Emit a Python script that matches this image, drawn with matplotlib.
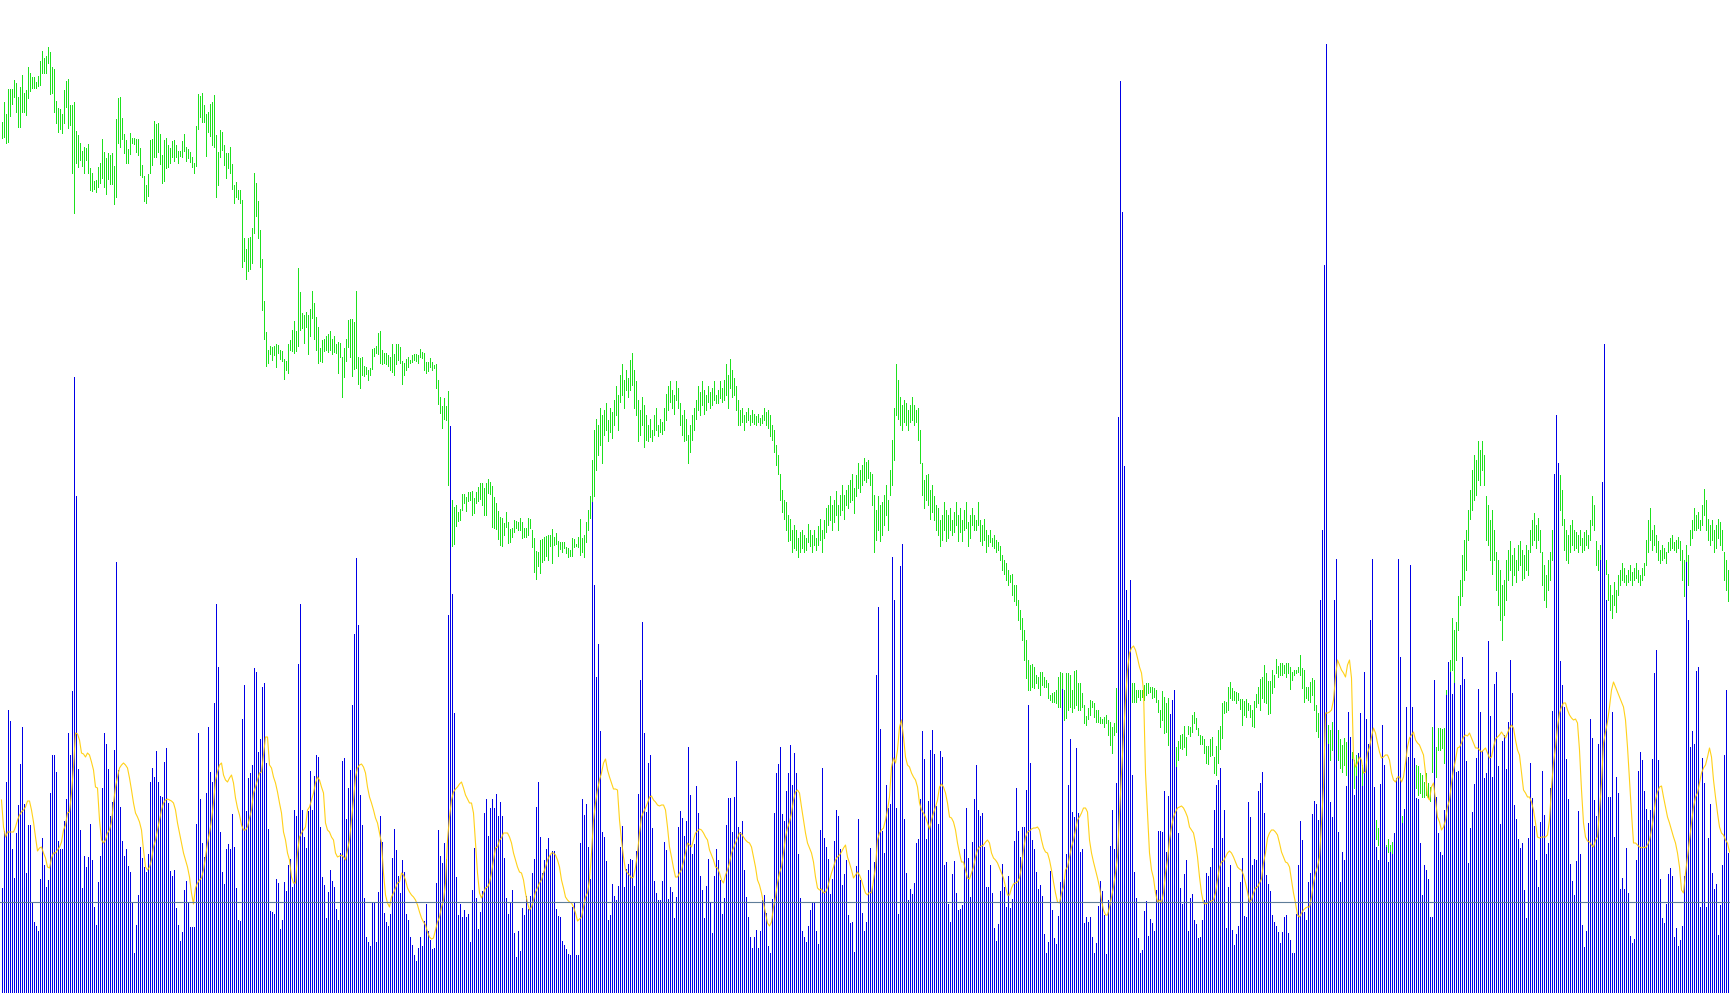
import numpy as np
import matplotlib.pyplot as plt

# tick volume per bar
volume = [
    104, 161, 210, 282, 271, 143, 114, 159, 187, 228, 265, 188, 119, 167, 167, 89, 70, 66, 61, 113,
    154, 127, 105, 112, 199, 237, 237, 220, 151, 143, 143, 171, 193, 259, 237, 301, 615, 496, 223, 162,
    104, 136, 125, 135, 168, 132, 85, 67, 110, 136, 204, 259, 248, 223, 176, 190, 242, 430, 222, 185,
    151, 136, 143, 126, 120, 90, 39, 67, 97, 145, 134, 125, 120, 138, 210, 224, 215, 241, 210, 196,
    195, 230, 244, 189, 121, 116, 122, 84, 67, 51, 60, 102, 111, 90, 65, 65, 65, 168, 259, 193,
    149, 135, 199, 265, 220, 210, 289, 388, 325, 160, 120, 108, 143, 148, 143, 178, 145, 104, 72, 71,
    273, 307, 181, 214, 219, 227, 324, 320, 240, 253, 305, 309, 229, 163, 81, 80, 78, 113, 109, 63,
    72, 110, 101, 127, 133,
    105, 182, 176, 328, 388, 182, 155, 144, 181, 221, 182, 216, 237, 235, 165, 115, 107, 74, 100, 122,
    111, 105, 83, 72, 139, 231, 234, 173, 204, 222, 287, 358, 434, 367, 197, 167, 94, 55, 50, 46,
    89, 89, 50, 100, 176, 150, 79, 70, 66, 78, 134, 163, 142, 116, 99, 132, 120, 78, 72, 55,
    47, 37, 31, 44, 55, 46, 71, 88, 61, 52, 43, 44, 109, 162, 136, 129, 149, 133, 377, 566,
    398, 279, 115, 77, 88, 75, 82, 75, 78, 50, 102, 144, 94, 63, 80, 101, 179, 193, 156, 184,
    193, 184, 198, 176, 190, 176, 134, 94, 78, 89, 102, 59, 35, 61, 41, 84, 77, 96, 83, 96,
    119, 133, 185, 210, 155, 119, 132, 143, 154, 137, 141, 141, 83, 76, 75, 51, 47, 43, 38, 37,
    85, 89, 37, 37, 149,
    193, 177, 188, 145, 113, 490, 407, 315, 348, 261, 160, 155, 131, 72, 77, 108, 96, 92, 106, 145,
    166, 105, 123, 128, 133, 132, 106, 141, 198, 312, 370, 259, 180, 229, 237, 164, 111, 99, 92, 92,
    111, 150, 142, 93, 105, 100, 74, 95, 165, 181, 174, 156, 171, 245, 197, 138, 148, 206, 179, 116,
    102, 74, 106, 133, 89, 59, 116, 143, 132, 112, 78, 94, 167, 194, 194, 160, 195, 231, 165, 160,
    171, 122, 95, 75, 55, 44, 55, 62, 44, 61, 92, 97, 79, 46, 39, 93, 179, 219, 228, 245,
    178, 171, 201, 219, 247, 207, 239, 219, 138, 94, 61, 55, 50, 66, 82, 90, 90, 61, 48, 162,
    224, 154, 145, 133, 98, 113, 151, 182, 176, 143, 107, 118, 132, 77, 69, 70, 40, 126, 173, 112,
    79, 61, 70, 122, 144,
    106, 130, 317, 385, 263, 161, 139, 207, 184, 188, 435, 392, 184, 78, 426, 448, 173, 119, 92, 103,
    98, 109, 149, 153, 193, 261, 233, 153, 191, 242, 262, 238, 186, 168, 241, 235, 127, 130, 88, 70,
    118, 131, 99, 82, 83, 87, 143, 184, 134, 95, 150, 193, 227, 182, 176, 179, 145, 105, 105, 127,
    99, 64, 51, 68, 101, 128, 105, 85, 116, 84, 93, 151, 204, 161, 135, 165, 165, 202, 287, 229,
    152, 143, 120, 103, 107, 96, 58, 39, 50, 121, 82, 54, 48, 76, 110, 303, 113, 138, 207, 253,
    180, 175, 244, 179, 140, 143, 69, 75, 70, 75, 55, 39, 49, 86, 111, 101, 77, 38, 92, 146,
    182, 143, 209, 575, 911, 780, 526, 402, 372, 412, 217, 120, 94, 54, 39, 42, 81, 91, 56, 73,
    69, 61, 102, 161, 161,
    160, 201, 140, 196, 278, 292, 302, 225, 159, 104, 88, 118, 132, 61, 94, 98, 72, 68, 54, 55,
    72, 92, 119, 116, 125, 144, 182, 207, 212, 224, 154, 182, 64, 105, 127, 62, 47, 58, 66, 110,
    134, 76, 75, 190, 175, 127, 133, 132, 201, 209, 220, 179, 117, 108, 101, 77, 70, 66, 60, 49,
    60, 75, 77, 59, 52, 39, 39, 78, 127, 171, 152, 80, 72, 110, 119, 178, 191, 188, 172, 392,
    462, 727, 948, 248, 190, 175, 392, 433, 160, 110, 140, 132, 206, 280, 255, 233, 197, 216, 239, 279,
    206, 320, 273, 248, 372, 433, 205, 145, 132, 208, 267, 227, 145, 130, 140, 138, 159, 214, 433, 335,
    169, 183, 285, 235, 427, 285, 234, 194, 193, 149, 97, 127, 122, 113, 75, 75, 312, 195, 159, 140,
    137, 182, 297, 330, 320,
    298, 309, 220, 221, 307, 335, 313, 231, 129, 164, 180, 208, 234, 303, 280, 241, 214, 219, 351, 276,
    215, 308, 320, 226, 168, 251, 257, 223, 270, 332, 299, 187, 173, 153, 144, 149, 102, 74, 154, 229,
    194, 166, 132, 105, 170, 221, 177, 138, 149, 204, 281, 518, 577, 529, 331, 307, 285, 233, 193, 128,
    111, 97, 131, 181, 138, 67, 45, 61, 169, 273, 254, 192, 176, 248, 432, 510, 648, 392, 195, 195,
    280, 155, 215, 199, 103, 114, 103, 144, 99, 56, 49, 53, 132, 221, 240, 232, 201, 183, 172, 182,
    233, 319, 342, 232, 113, 74, 69, 88, 118, 124, 116, 55, 64, 46, 52, 66, 116, 430, 372, 245,
    261, 248, 321, 325, 85, 234, 209, 85, 154, 188, 119, 103, 108, 57, 87, 127, 237, 302, 139, 87,
]

# moving average of the volume (yellow line)
volume_ma = [
    192, 165, 155, 160, 160, 160, 160, 165, 172, 177, 180, 182, 185, 191, 191, 182, 170, 155, 141, 144,
    145, 139, 134, 125, 124, 134, 139, 139, 142, 145, 150, 162, 167, 179, 180, 199, 225, 259, 258, 252,
    239, 238, 235, 239, 237, 230, 222, 205, 204, 172, 152, 149, 152, 159, 162, 170, 189, 205, 215, 224,
    227, 229, 227, 224, 214, 202, 189, 179, 175, 170, 162, 142, 125, 122, 125, 132, 145, 152, 162, 172,
    182, 189, 192, 193, 192, 191, 189, 182, 169, 159, 149, 139, 132, 125, 115, 99, 88, 104, 109, 112,
    114, 122, 135, 149, 159, 172, 189, 212, 220, 227, 229, 217, 212, 210, 214, 217, 209, 194, 184, 177,
    167, 162, 162, 165, 174, 182, 199, 205, 212, 219, 220, 237, 255, 255, 227, 224, 215, 209, 200, 189,
    179, 160, 152, 139, 132,
    115, 109, 109, 139, 155, 159, 162, 165, 182, 185, 192, 199, 209, 215, 212, 205, 199, 169, 162, 160,
    155, 152, 139, 135, 136, 137, 135, 132, 142, 152, 172, 192, 215, 224, 227, 228, 225, 219, 205, 195,
    189, 182, 174, 169, 159, 149, 119, 97, 89, 85, 95, 99, 104, 109, 110, 119, 117, 112, 104, 100,
    97, 95, 92, 87, 80, 74, 70, 67, 60, 55, 53, 54, 62, 70, 75, 85, 92, 109, 152, 175,
    192, 200, 203, 205, 208, 210, 204, 197, 193, 189, 189, 179, 149, 119, 99, 94, 99, 104, 105, 109,
    119, 132, 144, 145, 152, 154, 159, 159, 159, 155, 149, 139, 132, 125, 120, 119, 112, 99, 89, 82,
    85, 92, 100, 104, 109, 112, 119, 125, 132, 136, 139, 139, 137, 132, 125, 112, 104, 95, 92, 90,
    89, 85, 79, 71, 73,
    75, 85, 95, 99, 112, 139, 172, 189, 202, 212, 219, 229, 233, 222, 215, 209, 203, 203, 202, 172,
    152, 135, 122, 119, 117, 114, 115, 125, 139, 159, 175, 180, 184, 189, 195, 196, 192, 190, 187, 186,
    187, 187, 182, 165, 145, 135, 124, 115, 115, 119, 122, 130, 139, 149, 147, 145, 152, 159, 161, 163,
    162, 159, 155, 152, 142, 137, 132, 125, 124, 119, 112, 109, 117, 122, 129, 139, 144, 149, 154, 159,
    158, 155, 152, 150, 149, 145, 135, 125, 112, 107, 99, 89, 79, 69, 66, 70, 85, 95, 109, 119,
    125, 139, 155, 164, 170, 179, 192, 200, 202, 199, 185, 172, 159, 149, 144, 139, 130, 115, 104, 102,
    103, 99, 100, 104, 112, 119, 125, 132, 135, 137, 140, 144, 147, 135, 129, 122, 114, 117, 120, 117,
    112, 105, 99, 97, 100,
    99, 112, 125, 152, 159, 162, 164, 172, 182, 195, 225, 234, 229, 242, 265, 272, 255, 235, 227, 225,
    219, 215, 212, 205, 189, 182, 179, 175, 169, 163, 172, 179, 185, 192, 205, 208, 205, 199, 189, 175,
    174, 170, 162, 149, 139, 130, 130, 122, 114, 113, 119, 125, 135, 142, 145, 146, 147, 150, 152, 149,
    139, 134, 132, 129, 124, 119, 114, 105, 97, 97, 104, 108, 109, 110, 114, 125, 142, 155, 160, 161,
    163, 164, 164, 165, 162, 152, 144, 140, 139, 132, 122, 110, 99, 90, 89, 99, 105, 122, 125, 135,
    145, 152, 162, 172, 175, 179, 184, 184, 180, 152, 139, 130, 122, 114, 105, 92, 82, 77, 77, 85,
    95, 105, 119, 135, 179, 219, 255, 292, 322, 339, 344, 346, 342, 334, 325, 319, 302, 219, 179, 139,
    122, 114, 99, 90, 92,
    89, 99, 119, 132, 152, 165, 175, 180, 184, 185, 186, 184, 180, 175, 165, 162, 159, 149, 135, 115,
    99, 89, 88, 89, 90, 91, 92, 99, 112, 125, 130, 131, 135, 139, 141, 139, 135, 130, 125, 123,
    122, 117, 109, 100, 90, 92, 99, 104, 105, 109, 113, 129, 139, 154, 159, 162, 162, 160, 157, 149,
    140, 135, 130, 129, 125, 112, 99, 89, 77, 75, 79, 82, 84, 85, 85, 95, 109, 119, 125, 135,
    169, 205, 279, 279, 280, 282, 292, 315, 332, 327, 322, 319, 315, 327, 332, 314, 235, 225, 229, 235,
    232, 219, 220, 239, 245, 255, 264, 259, 249, 240, 234, 235, 237, 237, 232, 219, 212, 210, 215, 215,
    210, 215, 229, 245, 254, 257, 260, 252, 249, 247, 242, 237, 219, 195, 192, 205, 209, 192, 175, 170,
    162, 165, 172, 185, 192,
    209, 222, 232, 244, 245, 249, 255, 257, 256, 259, 254, 249, 244, 244, 242, 240, 242, 244, 239, 234,
    235, 245, 253, 255, 257, 260, 257, 254, 259, 264, 267, 264, 252, 242, 237, 219, 202, 199, 195, 195,
    190, 182, 169, 155, 154, 155, 155, 155, 157, 172, 205, 229, 245, 265, 279, 285, 289, 289, 282, 277,
    274, 272, 273, 269, 242, 202, 169, 155, 151, 150, 147, 145, 152, 155, 182, 209, 249, 260, 270, 285,
    302, 310, 305, 300, 295, 290, 285, 272, 245, 212, 179, 149, 149, 147, 145, 144, 145, 144, 147, 152,
    162, 175, 192, 200, 205, 206, 195, 185, 175, 169, 162, 155, 149, 139, 125, 102, 99, 119, 135, 152,
    169, 185, 195, 199, 209, 219, 224, 227, 235, 244, 235, 212, 195, 179, 165, 159, 157, 152, 149, 140,
]

# bar high / low, in points
high = [
    878, 898, 886, 911, 911, 911, 920, 917, 903, 913, 925, 907, 910, 933, 927, 923, 923, 918, 924, 939,
    949, 942, 944, 953, 948, 933, 931, 899, 892, 891, 886, 910, 919, 921, 895, 895, 898, 869, 865, 857,
    849, 853, 852, 856, 832, 827, 819, 820, 833, 837, 861, 848, 842, 847, 845, 847, 834, 881, 902, 903,
    882, 866, 860, 851, 867, 862, 862, 861, 861, 852, 835, 824, 815, 826, 860, 861, 879, 876, 877, 866,
    845, 860, 862, 855, 852, 859, 860, 855, 849, 849, 859, 866, 853, 851, 848, 843, 837, 874, 906, 904,
    907, 895, 886, 888, 896, 898, 905, 865, 848, 870, 868, 855, 847, 847, 853, 836, 815, 818, 810, 810,
    800, 762, 751, 762, 763, 772, 827, 817, 799, 770, 741, 699, 668, 650, 654, 653, 654, 656, 655, 650,
    649, 641, 639, 656, 660,
    670, 679, 669, 732, 708, 687, 685, 688, 685, 691, 709, 697, 683, 673, 652, 660, 661, 664, 666, 669,
    661, 664, 656, 658, 657, 643, 652, 661, 680, 681, 681, 678, 709, 643, 642, 643, 634, 633, 630, 632,
    651, 652, 654, 667, 669, 650, 647, 647, 645, 643, 656, 646, 656, 656, 653, 639, 637, 641, 643, 640,
    645, 646, 646, 645, 651, 648, 647, 638, 638, 642, 638, 635, 636, 620, 603, 594, 602, 594, 609, 523,
    500, 493, 495, 488, 491, 506, 506, 503, 508, 508, 509, 502, 508, 513, 517, 517, 512, 517, 521, 518,
    514, 503, 497, 489, 483, 482, 477, 488, 478, 471, 472, 480, 479, 478, 482, 478, 472, 472, 482, 481,
    470, 462, 449, 448, 460, 461, 463, 464, 465, 465, 471, 463, 467, 459, 458, 458, 458, 453, 452, 450,
    462, 461, 456, 463, 481,
    462, 465, 478, 490, 504, 540, 570, 581, 575, 592, 585, 590, 597, 580, 592, 588, 600, 614, 605, 625,
    636, 620, 630, 622, 640, 647, 630, 619, 600, 590, 603, 595, 585, 575, 581, 570, 585, 592, 575, 581,
    578, 592, 606, 614, 619, 610, 605, 619, 612, 597, 585, 590, 581, 565, 575, 585, 592, 600, 614, 608,
    619, 610, 605, 614, 608, 612, 619, 605, 610, 619, 612, 620, 636, 625, 641, 630, 622, 614, 600, 590,
    592, 585, 588, 592, 585, 590, 586, 584, 586, 582, 585, 592, 588, 590, 585, 575, 570, 555, 545, 526,
    510, 500, 498, 485, 481, 470, 475, 470, 462, 468, 470, 465, 462, 476, 470, 465, 470, 462, 474, 481,
    470, 480, 492, 495, 504, 495, 500, 509, 495, 505, 515, 505, 510, 515, 520, 526, 512, 525, 537, 530,
    535, 542, 538, 540, 528, 526, 505, 490, 504, 495, 498, 505, 515, 500, 530, 560, 592, 636, 620, 603,
    595, 600, 597, 590, 595, 603, 595, 590, 592, 570, 537, 520, 525, 526, 510, 515, 504, 495, 492, 480,
    485, 498, 490, 485, 492, 480, 488, 498, 485, 492, 480, 490, 498, 478, 485, 492, 485, 480, 498, 480,
    475, 481, 470, 465, 470, 462, 465, 460, 458, 454, 445, 440, 437, 430, 425, 426, 415, 415, 400, 390,
    382, 370,
    360, 340, 335, 336, 333, 325, 323, 328, 328, 323, 320, 317, 305, 307, 308, 310, 323, 328, 327, 310,
    327, 327, 325, 310, 329, 330, 317, 317, 307, 295, 284, 292, 300, 299, 297, 290, 290, 283, 281, 283,
    285, 280, 278, 273, 277, 312, 343, 340, 337, 327, 343, 352, 340, 317, 317, 310, 310, 310, 310, 315,
    317, 317, 313, 313, 312, 310, 300, 290,
    309, 303, 297, 302, 283, 267, 260, 253, 259, 265, 266, 274, 263, 274, 273, 285, 288, 282, 272, 265,
    264, 261, 254, 254, 261, 263, 243, 254, 270, 274, 297, 299, 298, 313, 318, 312, 309, 308, 307, 301,
    301, 299, 301, 297, 295, 290, 299, 306, 313, 321, 323, 335, 327, 319, 319, 330, 325, 341, 334, 337,
    337, 335, 337, 337, 333, 328, 330, 330, 333, 345, 332, 330, 313, 313, 318, 322, 320, 295, 287, 281,
    288, 265,
    283, 275, 270, 278, 272, 265, 270, 261, 255, 262, 258, 250, 255, 248, 240, 245, 239, 232, 235, 228,
    222, 215, 206, 200, 190, 180, 172, 160, 158, 160, 155, 161, 155, 158, 152, 157, 170, 175, 184, 178,
    172, 210, 225, 239, 230, 235, 234, 227, 225, 218, 227, 217, 213, 273, 274, 253, 272, 272, 271, 272,
    310, 327, 340,
    382, 370, 378, 404, 420, 445, 460, 470, 490, 510, 530, 545, 540, 559, 550, 559, 545, 504, 495, 480,
    490, 470, 448, 440, 430, 415, 420, 440, 450, 459, 445, 452, 440, 455, 459, 450, 445, 455, 450, 470,
    480, 487, 475, 482, 470, 448, 435, 425, 440, 448, 470, 500, 520, 537, 525, 510, 481, 470, 465, 475,
    480, 470, 468, 465, 470, 462, 468, 470, 465, 480, 504, 495, 459, 450, 455, 445, 450, 440, 426, 415,
    405, 418, 410, 425, 430, 437, 432, 425, 430, 435, 428, 432, 437, 430, 425, 432, 437, 460, 480, 492,
    470, 475, 465, 459, 450, 455, 452, 448, 458, 462, 465, 458, 460, 463, 459, 450, 440, 455, 445, 470,
    480, 492, 485, 488, 480, 495, 511, 500, 481, 475, 480, 470, 475, 481, 478, 470, 448, 440, 430, 445,
]
low = [
    862, 863, 857, 858, 884, 896, 903, 888, 873, 873, 888, 888, 885, 902, 909, 912, 912, 912, 914, 915,
    927, 927, 927, 937, 906, 907, 888, 877, 868, 871, 867, 877, 893, 872, 875, 827, 787, 837, 833, 840,
    834, 827, 840, 827, 810, 809, 811, 808, 813, 817, 822, 813, 806, 821, 816, 816, 796, 803, 857, 853,
    861, 847, 837, 837, 846, 857, 856, 848, 845, 825, 823, 799, 797, 804, 827, 835, 843, 843, 848, 836,
    817, 819, 832, 833, 837, 843, 839, 843, 837, 844, 843, 849, 839, 842, 838, 833, 827, 834, 871, 883,
    878, 878, 844, 868, 864, 855, 853, 803, 815, 843, 850, 835, 822, 832, 827, 811, 797, 803, 801, 797,
    733, 739, 721, 729, 731, 737, 767, 784, 762, 733, 690, 661, 634, 637, 646, 640, 645, 633, 647, 641,
    639, 621, 630, 627, 650,
    649, 647, 649, 654, 670, 672, 657, 673, 646, 664, 682, 661, 650, 637, 639, 638, 649, 650, 648, 650,
    646, 648, 647, 627, 643, 603, 623, 639, 653, 643, 624, 631, 632, 616, 612, 625, 624, 626, 620, 625,
    631, 644, 647, 646, 637, 636, 637, 636, 634, 630, 628, 625, 636, 640, 637, 616, 625, 630, 633, 637,
    638, 640, 639, 637, 643, 642, 630, 627, 629, 633, 630, 632, 612, 596, 587, 572, 581, 580, 515, 453,
    454, 456, 474, 479, 480, 490, 497, 489, 499, 500, 485, 487, 497, 499, 501, 495, 485, 485, 507, 506,
    473, 472, 471, 461, 455, 454, 465, 473, 457, 458, 463, 468, 472, 470, 470, 462, 463, 463, 465, 472,
    453, 428, 421, 434, 427, 438, 440, 444, 440, 454, 437, 455, 456, 444, 451, 448, 452, 447, 443, 444,
    444, 453, 454, 453, 445,
    448, 443, 458, 470, 482, 490, 504, 530, 545, 555, 537, 565, 570, 559, 568, 562, 575, 585, 570, 598,
    605, 592, 610, 603, 610, 615, 592, 585, 559, 565, 575, 553, 560, 559, 563, 559, 565, 570, 564, 568,
    566, 570, 580, 590, 598, 592, 586, 600, 592, 575, 565, 559, 560, 537, 548, 560, 570, 581, 590, 585,
    595, 586, 590, 598, 592, 595, 600, 597, 597, 602, 598, 600, 605, 592, 612, 603, 605, 590, 575, 575,
    578, 570, 578, 580, 575, 578, 576, 575, 578, 575, 577, 580, 575, 572, 564, 560, 548, 535, 526, 500,
    488, 481, 470, 459, 460, 448, 452, 450, 443, 448, 452, 448, 450, 458, 454, 448, 455, 450, 455, 460,
    448, 462, 468, 475, 480, 470, 478, 485, 470, 485, 490, 481, 495, 492, 498, 500, 487, 504, 512, 508,
    515, 520, 518, 522, 515, 495, 448, 460, 470, 459, 465, 475, 485, 470, 505, 515, 540, 585, 581, 575,
    570, 578, 575, 570, 578, 580, 575, 578, 560, 537, 505, 492, 500, 495, 481, 488, 480, 470, 465, 454,
    460, 470, 459, 462, 470, 465, 468, 475, 459, 468, 459, 470, 472, 454, 462, 475, 470, 470, 475, 459,
    455, 460, 448, 454, 458, 454, 452, 448, 450, 440, 430, 426, 420, 415, 418, 405, 399, 395, 380, 371,
    360, 340,
    322, 310, 310, 313, 312, 317, 312, 305, 315, 313, 313, 302, 300, 298, 298, 297, 293, 293, 310, 280,
    282, 290, 293, 288, 292, 295, 290, 290, 293, 277, 275, 281, 285, 293, 283, 278, 278, 277, 277, 273,
    277, 265, 255, 247, 265, 268, 277, 290, 287, 307, 300, 310, 300, 298, 298, 298, 303, 300, 303, 300,
    305, 307, 308, 302, 303, 298, 288, 273,
    280, 267, 268, 255, 250, 243, 237, 233, 240, 252, 251, 253, 245, 266, 264, 268, 277, 271, 265, 256,
    256, 247, 237, 236, 244, 245, 227, 225, 237, 251, 262, 287, 288, 290, 302, 300, 300, 297, 300, 291,
    275, 285, 283, 290, 283, 274, 273, 293, 297, 290, 302, 298, 297, 286, 287, 307, 313, 327, 323, 325,
    325, 327, 323, 327, 311, 320, 325, 327, 328, 325, 312, 298, 302, 300, 298, 305, 290, 269, 263, 243,
    265, 260,
    255, 245, 240, 250, 245, 235, 240, 232, 228, 235, 225, 220, 228, 217, 212, 218, 205, 200, 208, 198,
    195, 185, 178, 170, 165, 161, 155, 145, 142, 143, 140, 148, 145, 147, 145, 152, 152, 155, 160, 150,
    167, 167, 200, 210, 206, 212, 205, 207, 203, 203, 205, 203, 199, 228, 250, 223, 250, 250, 252, 237,
    260, 295, 310,
    330, 316, 340, 370, 395, 404, 420, 430, 460, 481, 490, 500, 505, 520, 515, 530, 515, 460, 455, 440,
    426, 440, 410, 395, 380, 360, 385, 400, 420, 430, 415, 425, 418, 430, 435, 420, 422, 430, 425, 448,
    455, 460, 452, 460, 448, 415, 400, 393, 410, 420, 440, 470, 480, 495, 490, 475, 450, 440, 437, 448,
    455, 450, 452, 448, 455, 448, 450, 455, 452, 460, 475, 470, 435, 430, 426, 428, 432, 426, 400, 390,
    382, 395, 388, 405, 415, 420, 418, 415, 418, 420, 415, 420, 422, 418, 415, 420, 425, 435, 448, 460,
    450, 455, 448, 440, 437, 440, 442, 437, 448, 450, 452, 450, 448, 452, 440, 420, 404, 425, 415, 455,
    462, 470, 470, 472, 470, 475, 485, 470, 460, 455, 460, 448, 452, 462, 455, 450, 420, 410, 399, 415,
]

level = 90  # horizontal reference level on the volume scale

n = len(volume)
x = np.arange(n)

fig = plt.figure(figsize=(17.3, 10.05), dpi=100, facecolor='white')

# price bars underneath
ax_p = fig.add_axes([0, 0, 1, 1])
ax_p.vlines(x, low, high, color='#1ee01e', linewidth=0.72, antialiased=False)
ax_p.set_xlim(-0.75, n - 0.75)
ax_p.set_ylim(-5, 1000)
ax_p.axis('off')

# volume histogram on top, same column positions as the price bars
ax_v = fig.add_axes([0, 0, 1, 1])
ax_v.patch.set_visible(False)
ax_v.vlines(x, 0, volume, color='#0000e6', linewidth=0.72, antialiased=False)
ax_v.plot(x, volume_ma, color='#ffcc00', linewidth=0.8, alpha=0.9)
ax_v.axhline(level, color='#5f7d98', linewidth=0.8)
ax_v.set_xlim(-0.75, n - 0.75)
ax_v.set_ylim(-13, 992)
ax_v.axis('off')

fig.savefig('out.png', dpi=100, facecolor='white')
